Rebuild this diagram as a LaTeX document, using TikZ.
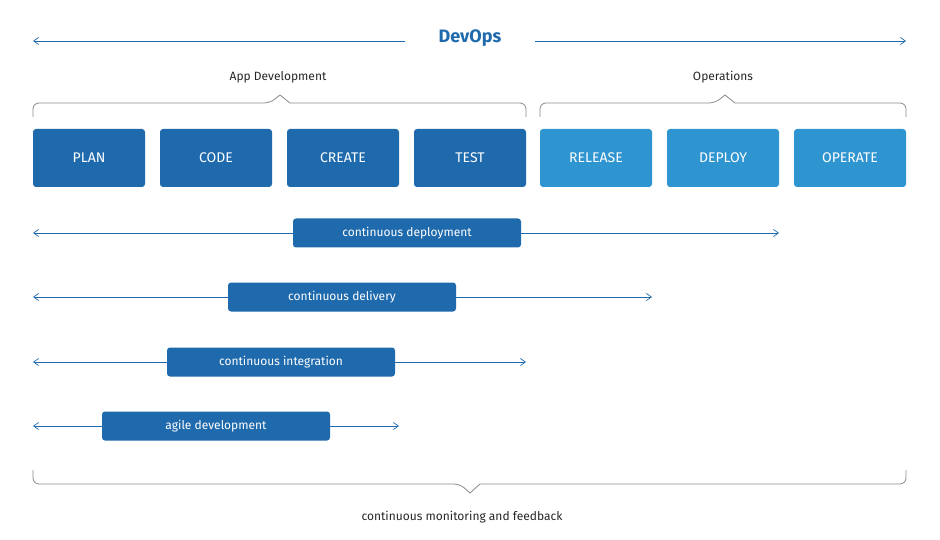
\documentclass[tikz,border=0pt]{standalone}
\usepackage{fontspec}
\setmainfont{Fira Sans}
\usetikzlibrary{arrows.meta}
\definecolor{dk}{HTML}{1F6AAD}
\definecolor{lt}{HTML}{2F95D0}
\definecolor{br}{HTML}{8A8A8A}
\begin{document}
\begin{tikzpicture}[x=1pt,y=-1pt,
  phase/.style={rounded corners=3pt,minimum width=112pt,minimum height=58pt,text=white,font=\fontsize{14}{16}\selectfont,inner sep=0pt},
  bar/.style={fill=dk,rounded corners=3pt,minimum width=228pt,minimum height=29pt,text=white,font=\fontsize{12}{14}\selectfont,inner sep=0pt},
  arr/.style={draw=dk,line width=0.7pt,-{Straight Barb[length=5pt,width=7pt]}},
  brace/.style={draw=br,line width=0.8pt,rounded corners=6pt},
  lbl/.style={font=\fontsize{12}{14}\selectfont,text=black!85}]
\useasboundingbox (0,0) rectangle (940,540);
\node[font=\bfseries\fontsize{18}{20}\selectfont,text=dk] (devops) at (470,38) {DevOps};
\coordinate (dl) at (33,41); \coordinate (dr) at (906,41);
\draw[arr] (405,41) -- (dl);
\draw[arr] (535,41) -- (dr);
\node[lbl] (appdev) at (278,77) {App Development};
\node[lbl] (ops) at (723,77) {Operations};
\draw[brace] (33,117) -- (33,103) -- (270,103) [sharp corners]-- (280,95) -- (290,103) [rounded corners=6pt]-- (526,103) -- (526,117);
\draw[brace] (540,117) -- (540,103) -- (715,103) [sharp corners]-- (725,95) -- (735,103) [rounded corners=6pt]-- (906,103) -- (906,117);
\node[phase,fill=dk] (plan) at (89,158) {PLAN};
\node[phase,fill=dk] (code) at (216,158) {CODE};
\node[phase,fill=dk] (create) at (343,158) {CREATE};
\node[phase,fill=dk] (test) at (470,158) {TEST};
\node[phase,fill=lt] (release) at (596,158) {RELEASE};
\node[phase,fill=lt] (deploy) at (723,158) {DEPLOY};
\node[phase,fill=lt] (operate) at (850,158) {OPERATE};
\foreach \n/\y/\bx/\e/\t in {cdep/233/407/779/continuous deployment, cdel/297/342/652/continuous delivery, cint/362/281/526/continuous integration, agile/426/216/399/agile development}{
  \coordinate (\n l) at (33,\y); \coordinate (\n r) at (\e,\y);
  \node[bar] (\n) at (\bx,\y) {\t};
  \draw[arr] (\n.west) -- (\n l);
  \draw[arr] (\n.east) -- (\n r);
}
\draw[brace] (33,470) -- (33,484) -- (460,484) [sharp corners]-- (470,493) -- (480,484) [rounded corners=6pt]-- (906,484) -- (906,470);
\node[lbl] (mon) at (462,517) {continuous monitoring and feedback};
\end{tikzpicture}
\end{document}
